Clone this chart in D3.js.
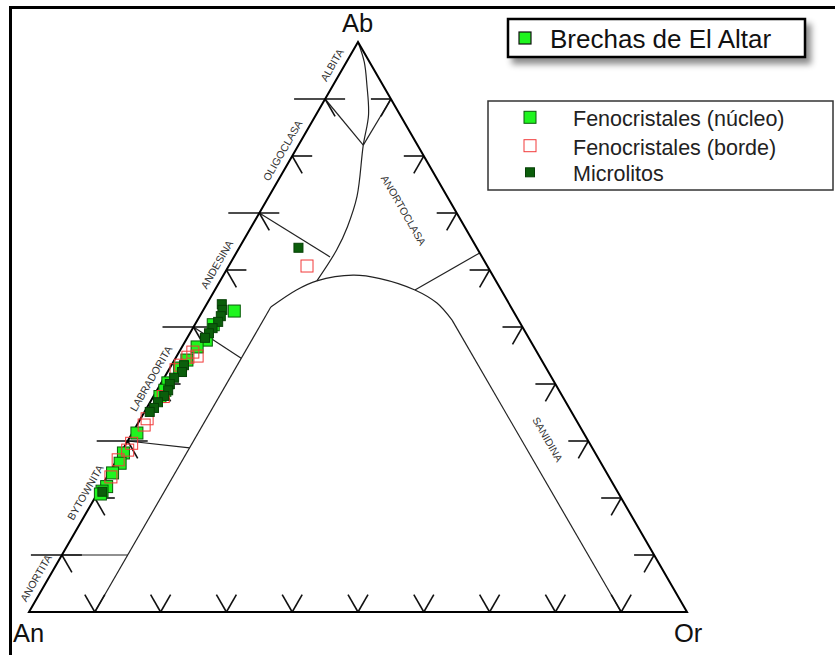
<!DOCTYPE html>
<html><head><meta charset="utf-8">
<script src="https://cdn.jsdelivr.net/npm/d3@7"></script>
<style>html,body{margin:0;padding:0;background:#fff;}</style>
</head><body>
<svg id="chart" width="835" height="655"></svg>
<script>
// ---------- DATA (ternary compositions: [An, Ab, Or] in %) ----------
const vertexLabels = ["An", "Ab", "Or"];
const tickValues = [10, 20, 30, 40, 50, 60, 70, 80, 90];
const majorLeftTicks = [10, 30, 50, 70, 90];

const plagFields = ["ANORTITA", "BYTOWNITA", "LABRADORITA", "ANDESINA", "OLIGOCLASA", "ALBITA"];
const plagFieldMidAb = [5, 20, 40, 60, 80, 95];
const alkFields = ["ANORTOCLASA", "SANIDINA"];
const alkFieldPos = [[8.0, 70.4, 21.6], [6.2, 30.2, 63.6]];

// field boundary lines
const lineAnBy = [[90, 10, 0], [80, 10, 10]];
const lineByLa = [[70, 30, 0], [61.2, 28.8, 10]];
const lineLaAd = [[50, 50, 0], [45.5, 44.5, 10]];
const lineAdOl = [[30, 70, 0], [23.1, 62.3, 14.6]];
const lineAlbL = [[10, 90, 0], [8.25, 81.9, 9.85]];
const lineAlbR = [[0, 90, 10], [8.25, 81.9, 9.85]];
const lineOr10 = [[90, 0, 10], [36.5, 53.5, 10]];
const lineAn10 = [[10, 0, 90], [10.1, 51.2, 38.7]];
const lineAnoSan = [[0, 63, 37], [13.1, 56.5, 30.4]];
const curvePlagAlk = [[0, 100, 0], [0.8, 96.5, 2.7], [2.4, 92.5, 5.1], [4.8, 87.2, 8.0],
  [8.25, 81.9, 9.85], [13.7, 72.9, 13.4], [17.8, 67.6, 14.6], [21.5, 63.5, 15.0], [27.2, 58.1, 14.7]];
const curveSolvus = [[36.5, 53.5, 10], [31.1, 56.5, 12.4], [27.2, 58.1, 14.7], [21.2, 59.1, 19.7],
  [17.4, 58.5, 24.1], [13.1, 56.5, 30.4], [10.9, 54.2, 34.9], [10.1, 51.2, 38.7]];

// series
const seriesNames = ["Fenocristales (núcleo)", "Fenocristales (borde)", "Microlitos"];
const nucleo = [
  [42.4, 52.8, 4.8], [46.8, 50.4, 2.8], [49.2, 47.7, 3.1], [51.2, 46.5, 2.3], [53.9, 44.2, 1.9],
  [55.7, 42.8, 1.5], [58.8, 40.2, 1.0], [59.9, 38.9, 1.2], [61.2, 37.8, 1.0], [67.9, 31.4, 0.7],
  [71.7, 27.9, 0.4], [73.1, 26.1, 0.8], [75.1, 24.4, 0.5], [77.2, 22.0, 0.8], [78.3, 21.2, 0.5],
  [78.8, 20.7, 0.5]
];
const borde = [
  [27.4, 60.7, 11.9], [52.3, 45.6, 2.1], [53.5, 44.7, 1.8], [55.3, 43.3, 1.4], [56.4, 42.5, 1.1],
  [52.0, 44.9, 3.1], [60.7, 37.8, 1.5], [65.1, 33.9, 1.0], [66.1, 32.8, 1.1], [69.6, 29.6, 0.8],
  [70.8, 28.4, 0.8], [73.1, 26.7, 0.2], [75.7, 23.7, 0.6]
];
const microlitos = [
  [27.1, 63.9, 9.0], [43.7, 54.0, 2.3], [44.1, 53.0, 2.9], [44.9, 51.9, 3.2], [45.8, 50.9, 3.3],
  [47.2, 49.8, 3.0], [48.2, 48.9, 2.9], [49.2, 48.1, 2.7], [54.8, 43.3, 1.9], [55.7, 42.1, 2.2],
  [57.4, 41.1, 1.5], [58.6, 40.0, 1.4], [59.4, 38.9, 1.7], [60.5, 37.9, 1.6], [62.0, 36.8, 1.2],
  [63.1, 35.8, 1.1], [64.1, 35.1, 0.8], [78.3, 21.1, 0.6]
];
const legendTitle = "Brechas de El Altar";

// ---------- DRAW ----------
const svg = d3.select("#chart");
const FONT = "'Liberation Sans', Arial, sans-serif";

// ternary projection via d3 scales
const xs = d3.scaleLinear().domain([0, 100]).range([29, 687]);
const ys = d3.scaleLinear().domain([0, 100]).range([612, 42]);
const tern = d => [xs(d[2] + d[1] / 2), ys(d[1])];
const line = d3.line().x(d => tern(d)[0]).y(d => tern(d)[1]);
const curve = d3.line().x(d => tern(d)[0]).y(d => tern(d)[1]).curve(d3.curveCatmullRom.alpha(0.5));

const defs = svg.append("defs");
const f = defs.append("filter").attr("id", "shadow").attr("x", "-10%").attr("y", "-30%").attr("width", "130%").attr("height", "190%");
f.append("feDropShadow").attr("dx", 5).attr("dy", 6).attr("stdDeviation", 3).attr("flood-color", "#000").attr("flood-opacity", 0.45);

// outer frame
svg.append("rect").attr("x", 10.5).attr("y", 7.5).attr("width", 900).attr("height", 700)
  .attr("fill", "none").attr("stroke", "#000").attr("stroke-width", 3);

const g = svg.append("g");

// field boundaries
[lineAnBy, lineByLa, lineLaAd, lineAdOl, lineAlbL, lineAlbR, lineOr10, lineAn10, lineAnoSan].forEach(l => {
  g.append("path").attr("d", line(l)).attr("fill", "none").attr("stroke", "#222").attr("stroke-width", 1.2);
});
[curvePlagAlk, curveSolvus].forEach(c => {
  g.append("path").attr("d", curve(c)).attr("fill", "none").attr("stroke", "#222").attr("stroke-width", 1.2);
});

// ticks
const TL = 20, c60 = 0.5, s60 = Math.sqrt(3) / 2;
const tk = g.append("g").attr("stroke", "#111").attr("stroke-width", 1.6).attr("fill", "none");
tickValues.forEach(t => {
  // left side (An-Ab)
  let [px, py] = tern([100 - t, t, 0]);
  const outL = majorLeftTicks.includes(t) ? 31 : 0;
  tk.append("line").attr("x1", px - outL).attr("y1", py).attr("x2", px + TL).attr("y2", py);
  tk.append("line").attr("x1", px).attr("y1", py).attr("x2", px + TL * c60).attr("y2", py + TL * s60);
  // right side (Ab-Or)
  [px, py] = tern([0, t, 100 - t]);
  tk.append("line").attr("x1", px - TL).attr("y1", py).attr("x2", px).attr("y2", py);
  tk.append("line").attr("x1", px).attr("y1", py).attr("x2", px - TL * c60).attr("y2", py + TL * s60);
  // bottom (An-Or)
  [px, py] = tern([100 - t, 0, t]);
  tk.append("line").attr("x1", px).attr("y1", py).attr("x2", px - TL * c60).attr("y2", py - TL * s60);
  tk.append("line").attr("x1", px).attr("y1", py).attr("x2", px + TL * c60).attr("y2", py - TL * s60);
});

// triangle
g.append("path").attr("d", line([[100, 0, 0], [0, 100, 0], [0, 0, 100], [100, 0, 0]]) + "Z")
  .attr("fill", "none").attr("stroke", "#000").attr("stroke-width", 2).attr("stroke-linejoin", "miter");

// field labels
plagFields.forEach((name, i) => {
  const ab = plagFieldMidAb[i];
  const [px, py] = tern([100 - ab, ab, 0]);
  const cx = px - 10 * s60, cy = py - 10 * c60;
  g.append("text").attr("transform", `translate(${cx},${cy}) rotate(-60)`)
    .attr("text-anchor", "middle").attr("dominant-baseline", "middle")
    .attr("font-family", FONT).attr("font-size", 10.5).attr("fill", "#333").text(name);
});
alkFields.forEach((name, i) => {
  const [cx, cy] = tern(alkFieldPos[i]);
  g.append("text").attr("transform", `translate(${cx},${cy}) rotate(60)`)
    .attr("text-anchor", "middle").attr("dominant-baseline", "middle")
    .attr("font-family", FONT).attr("font-size", 10.5).attr("fill", "#333").text(name);
});

// vertex labels
const vpos = [[13, 642, "start"], [357.5, 32, "middle"], [674, 642, "start"]];
vertexLabels.forEach((v, i) => {
  svg.append("text").attr("x", vpos[i][0]).attr("y", vpos[i][1]).attr("text-anchor", vpos[i][2])
    .attr("font-family", FONT).attr("font-size", 25.5).attr("fill", "#111").text(v);
});

// data
const styles = [
  {fill: "#1ff51f", stroke: "#0a5a0a", size: 12, sw: 1},
  {fill: "none", stroke: "#f23a3a", size: 12, sw: 1},
  {fill: "#0b5e0b", stroke: "#064006", size: 9, sw: 1}
];
[nucleo, borde, microlitos].forEach((arr, si) => {
  const st = styles[si];
  g.append("g").selectAll("rect").data(arr).join("rect")
    .attr("x", d => tern(d)[0] - st.size / 2).attr("y", d => tern(d)[1] - st.size / 2)
    .attr("width", st.size).attr("height", st.size)
    .attr("fill", st.fill).attr("stroke", st.stroke).attr("stroke-width", st.sw);
});

// legend 1
const l1 = svg.append("g");
l1.append("rect").attr("x", 508).attr("y", 19).attr("width", 297).attr("height", 38)
  .attr("fill", "#fff").attr("stroke", "#000").attr("stroke-width", 2.5).attr("filter", "url(#shadow)");
l1.append("rect").attr("x", 519).attr("y", 32).attr("width", 12).attr("height", 12)
  .attr("fill", styles[0].fill).attr("stroke", "#111").attr("stroke-width", 1.2);
l1.append("text").attr("x", 550).attr("y", 48).attr("font-family", FONT).attr("font-size", 26)
  .attr("fill", "#111").text(legendTitle);

// legend 2
const l2 = svg.append("g");
l2.append("rect").attr("x", 488).attr("y", 101).attr("width", 345).attr("height", 89)
  .attr("fill", "#fff").attr("stroke", "#333").attr("stroke-width", 1.5);
const ly = [117.3, 145.7, 172.3];
seriesNames.forEach((n, i) => {
  const st = styles[i];
  l2.append("rect").attr("x", 530 - st.size / 2).attr("y", ly[i] - st.size / 2)
    .attr("width", st.size).attr("height", st.size)
    .attr("fill", st.fill).attr("stroke", st.stroke).attr("stroke-width", 1);
  l2.append("text").attr("x", 573).attr("y", ly[i] + 9).attr("font-family", FONT).attr("font-size", 21.5)
    .attr("fill", "#222").text(n);
});
</script>
</body></html>
